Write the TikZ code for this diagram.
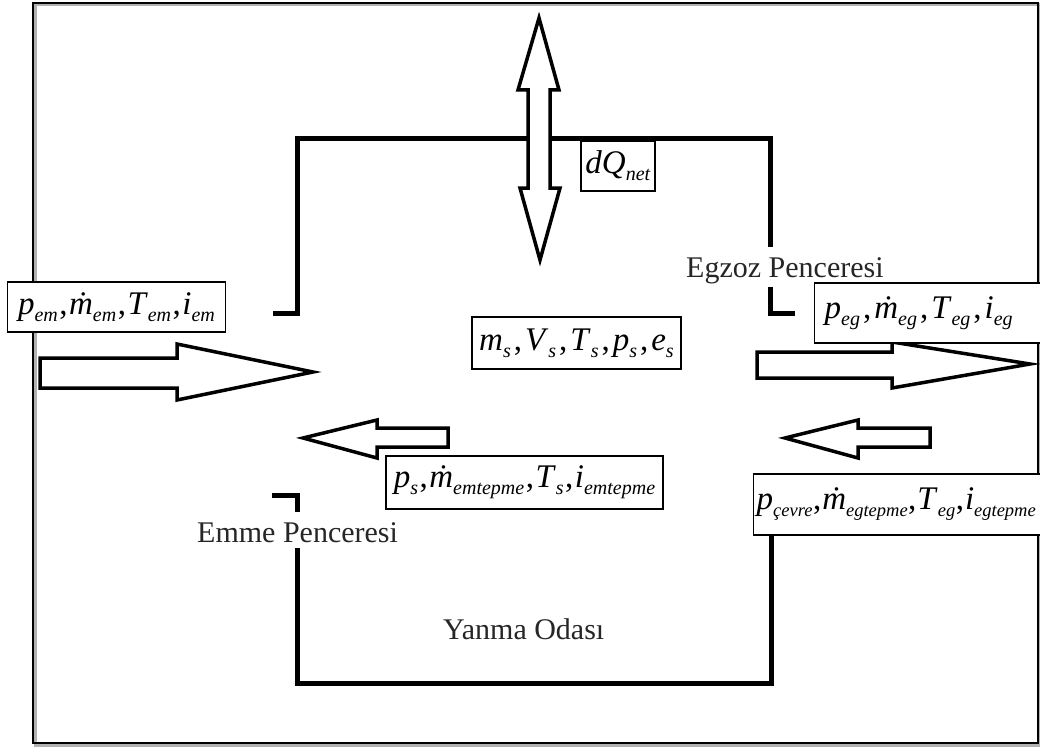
\documentclass[tikz,border=0pt]{standalone}
\usepackage{fontspec}
\setmainfont{Liberation Serif}
\newcommand\vv[2]{\textit{#1}\raisebox{-7pt}{\fontsize{20}{20}\selectfont\textit{#2}}}
\newcommand\vvs[2]{\textit{#1}\raisebox{-7pt}{\fontsize{18.5}{18.5}\selectfont\textit{#2}}}
\newcommand\cm{\hspace{1.5pt},\hspace{1.5pt}}
\newcommand\cmn{\hspace{0.5pt},\hspace{1pt}}
\newcommand\cmw{\hspace{3pt},\hspace{3pt}}
\newcommand\padd[1]{\hbox to #1{}}
\begin{document}
\begin{tikzpicture}[x=1pt,y=-1pt,
  wall/.style={line width=5pt,line join=miter,line cap=butt},
  fat/.style={draw,fill=white,line width=3.5pt,line join=miter},
  lbl/.style={draw,fill=white,line width=1.3pt,inner sep=0pt,font=\fontsize{33}{33}\selectfont},
  capt/.style={font=\fontsize{30}{30}\selectfont,inner sep=0pt,text=black!85}]
\useasboundingbox (0,0) rectangle (1040,749);
\fill[white] (0,0) rectangle (1040,749);
% outer frame with shadow
\draw[line width=3pt,black!30] (35,5) rectangle (1040,745);
\draw[line width=2.5pt] (33,3) rectangle (1038,743);
% chamber walls
\draw[wall] (273,313) -- (297,313) -- (297,138) -- (770,138) -- (770,247);
\draw[wall] (770,287) -- (770,313) -- (795,313);
\draw[wall] (272,495) -- (297,495) -- (297,512);
\draw[wall] (297,548) -- (297,683) -- (771,683) -- (771,535);
% captions
\node[capt,anchor=base west] (egz) at (686,277) {Egzoz Penceresi};
\node[capt,anchor=base west] (emm) at (197,542) {Emme Penceresi};
\node[capt,anchor=base west] (yan) at (443,639) {Yanma Odası};
% fat arrows
\draw[fat] (40,358) -- (177,358) -- (177,344) -- (313,372) -- (177,400) -- (177,388) -- (40,388) -- cycle;
\draw[fat] (757,352) -- (892,352) -- (892,342) -- (1030,364) -- (892,388) -- (892,378) -- (757,378) -- cycle;
\draw[fat] (448,428) -- (377,428) -- (377,420) -- (303,438) -- (377,458) -- (377,447) -- (448,447) -- cycle;
\draw[fat] (930,428) -- (858,428) -- (858,420) -- (785,438) -- (858,458) -- (858,447) -- (930,447) -- cycle;
\draw[fat] (539,18) -- (559,90) -- (550,90) -- (550,188) -- (560,188) -- (540,260) -- (520,188) -- (528,188) -- (528,90) -- (518,90) -- cycle;
% labels
\node[lbl,minimum width=218pt,minimum height=50pt] (pem) at (116.5,307) {\vv{p}{em}\cm\vv{ṁ}{em}\cm\vv{T}{em}\cm\vv{i}{em}};
\node[lbl,minimum width=209pt,minimum height=52pt] (ms) at (576.5,343) {\vv{m}{s}\cmw\vv{V}{s}\cmw\vv{T}{s}\cmw\vv{p}{s}\cmw\vv{e}{s}};
\node[lbl,minimum width=74pt,minimum height=50pt] (dq) at (618,166) {\vv{dQ}{net}};
\node[lbl,anchor=west,inner xsep=10pt,minimum height=60pt] (peg) at (814,313) {\vv{p}{eg}\cmw\vv{ṁ}{eg}\cmw\vv{T}{eg}\cmw\vv{i}{eg}\padd{40pt}};
\node[lbl,minimum width=277pt,minimum height=53pt] (ps) at (524.5,482.5) {\vv{p}{s}\cm\vv{ṁ}{emtepme}\cm\vv{T}{s}\cm\vv{i}{emtepme}};
\node[lbl,anchor=west,inner xsep=3pt,minimum height=61pt] (pcv) at (753,504.5) {\vvs{p}{çevre}\cmn\vvs{ṁ}{egtepme}\cmn\vvs{T}{eg}\cmn\vvs{i}{egtepme}\padd{20pt}};
\end{tikzpicture}
\end{document}
